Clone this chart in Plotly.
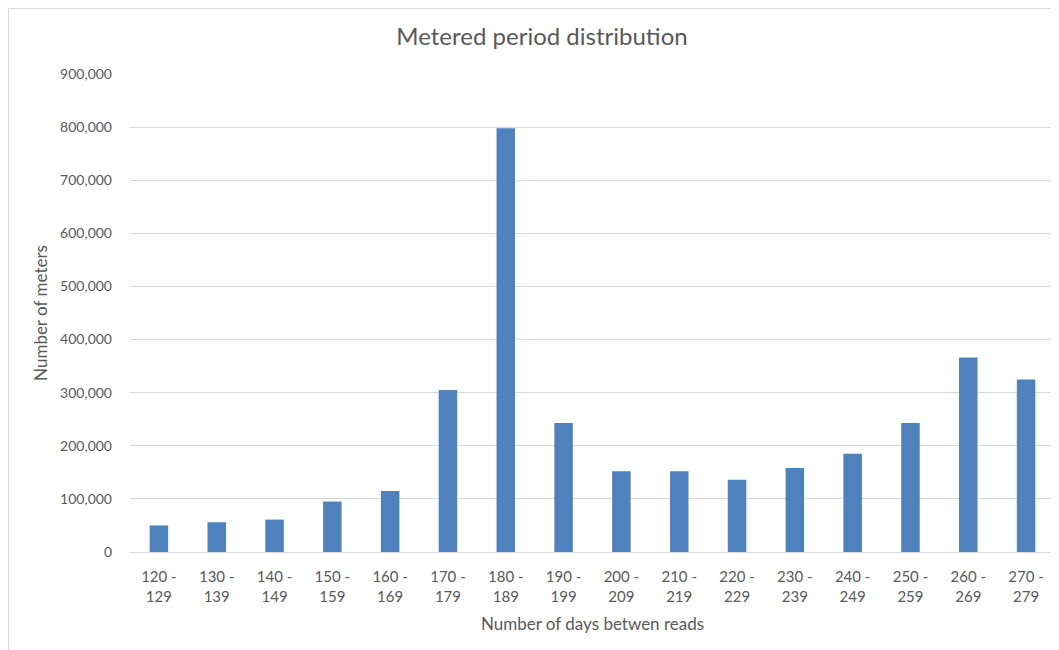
import plotly.graph_objects as go

categories = ["120 -<br>129", "130 -<br>139", "140 -<br>149", "150 -<br>159", "160 -<br>169",
              "170 -<br>179", "180 -<br>189", "190 -<br>199", "200 -<br>209", "210 -<br>219",
              "220 -<br>229", "230 -<br>239", "240 -<br>249", "250 -<br>259", "260 -<br>269",
              "270 -<br>279"]
meters = [50000, 56000, 61000, 95000, 115000, 305000, 798000, 243000, 152000, 152000,
          136000, 158000, 185000, 243000, 366000, 325000]
y_ticks = [0, 100000, 200000, 300000, 400000, 500000, 600000, 700000, 800000, 900000]

font_family = "Lato, 'Open Sans', sans-serif"
grey = "#595959"

W, H = 1051, 642          # page body has an 8px margin
L, R, T, B = 122, 4, 66, 98
pw, ph = W - L - R, H - T - B

fig = go.Figure(go.Bar(x=categories, y=meters, marker=dict(color="#4f81bd", line=dict(width=0)),
                       width=0.32))

frame = dict(color="#d9d9d9", width=1)
fig.update_layout(
    width=W, height=H,
    margin=dict(l=L, r=R, t=T, b=B),
    paper_bgcolor="white", plot_bgcolor="white",
    font=dict(family=font_family, color=grey, size=14),
    title=dict(text="Metered period distribution", x=534 / W, xref="container", xanchor="center",
               y=1 - 29 / H, yref="container", yanchor="middle",
               font=dict(size=24, color=grey, family=font_family)),
    showlegend=False,
    xaxis=dict(range=[-0.5, 15.5], showgrid=False, showline=False, ticks="",
               ticklabelstandoff=14, tickfont=dict(size=15, color=grey),
               title=dict(text="Number of days betwen reads", font=dict(size=17, color=grey), standoff=14)),
    yaxis=dict(range=[0, 900000], tickvals=y_ticks, tickformat=",", showgrid=True,
               gridcolor="#d9d9d9", gridwidth=1, zeroline=True, zerolinecolor="#d9d9d9",
               zerolinewidth=1, showline=False, ticks="", ticklabelstandoff=17,
               tickfont=dict(size=14, color=grey),
               title=dict(text="Number of meters", font=dict(size=17, color=grey), standoff=8)),
    shapes=[
        dict(type="line", xref="paper", yref="paper",
             x0=(0.5 - L) / pw, x1=(0.5 - L) / pw, y0=(H - B - H - 5) / ph, y1=(H - B - 0.5) / ph,
             line=frame, layer="below"),
        dict(type="line", xref="paper", yref="paper",
             x0=(0.5 - L) / pw, x1=(W + 5 - L) / pw, y0=(H - B - 0.5) / ph, y1=(H - B - 0.5) / ph,
             line=frame, layer="below"),
    ],
)

fig.write_html("out.html")
